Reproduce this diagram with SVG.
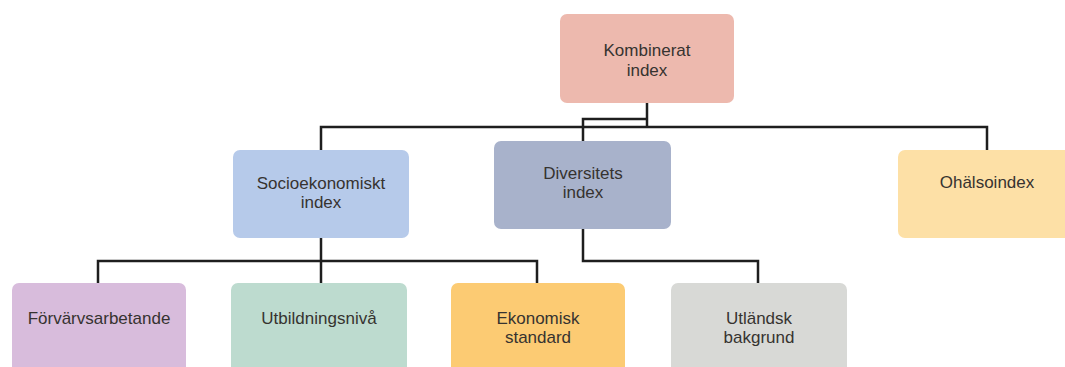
<svg xmlns="http://www.w3.org/2000/svg" width="1065" height="367" viewBox="0 0 1065 367">
<style>
.box{stroke:none}
.t{font-family:"Liberation Sans",Arial,sans-serif;font-size:17px;fill:#363330;text-anchor:middle}
.c{fill:none;stroke:#1e1e1e;stroke-width:2.5;stroke-linejoin:miter}
</style>
<rect width="1065" height="367" fill="#ffffff"/>
<g id="connectors">
<path class="c" d="M647 103 V127"/>
<path class="c" d="M321 150 V127 H987 V150"/>
<path class="c" d="M647 119 H583 V141"/>
<path class="c" d="M321 238 V283"/>
<path class="c" d="M98 283 V261 H537 V283"/>
<path class="c" d="M583 229 V261 H758 V283"/>
</g>
<g id="kombinerat">
<rect class="box" x="560" y="14" width="174" height="89" rx="7" fill="#EDB9AE"/>
<text class="t" x="647" y="56">Kombinerat</text>
<text class="t" x="647" y="76">index</text>
</g>
<g id="socioekonomiskt">
<rect class="box" x="233" y="150" width="176" height="88" rx="7" fill="#B6CAEA"/>
<text class="t" x="321" y="189">Socioekonomiskt</text>
<text class="t" x="321" y="208">index</text>
</g>
<g id="diversitets">
<rect class="box" x="494" y="141" width="177" height="88" rx="7" fill="#A8B2CB"/>
<text class="t" x="583" y="179">Diversitets</text>
<text class="t" x="583" y="198">index</text>
</g>
<g id="ohalsoindex">
<rect class="box" x="898" y="150" width="178" height="88" rx="7" fill="#FDE0A6"/>
<text class="t" x="987" y="188">Ohälsoindex</text>
</g>
<g id="forvarvsarbetande">
<rect class="box" x="12" y="283" width="174" height="95" rx="7" fill="#D8BCDC"/>
<text class="t" x="99" y="324">Förvärvsarbetande</text>
</g>
<g id="utbildningsniva">
<rect class="box" x="231" y="283" width="176" height="95" rx="7" fill="#BDDBCF"/>
<text class="t" x="319" y="324">Utbildningsnivå</text>
</g>
<g id="ekonomisk">
<rect class="box" x="451" y="283" width="174" height="95" rx="7" fill="#FCCB73"/>
<text class="t" x="538" y="324">Ekonomisk</text>
<text class="t" x="538" y="343">standard</text>
</g>
<g id="utlandsk">
<rect class="box" x="671" y="283" width="176" height="95" rx="7" fill="#D8D9D6"/>
<text class="t" x="759" y="324">Utländsk</text>
<text class="t" x="759" y="343">bakgrund</text>
</g>
</svg>
